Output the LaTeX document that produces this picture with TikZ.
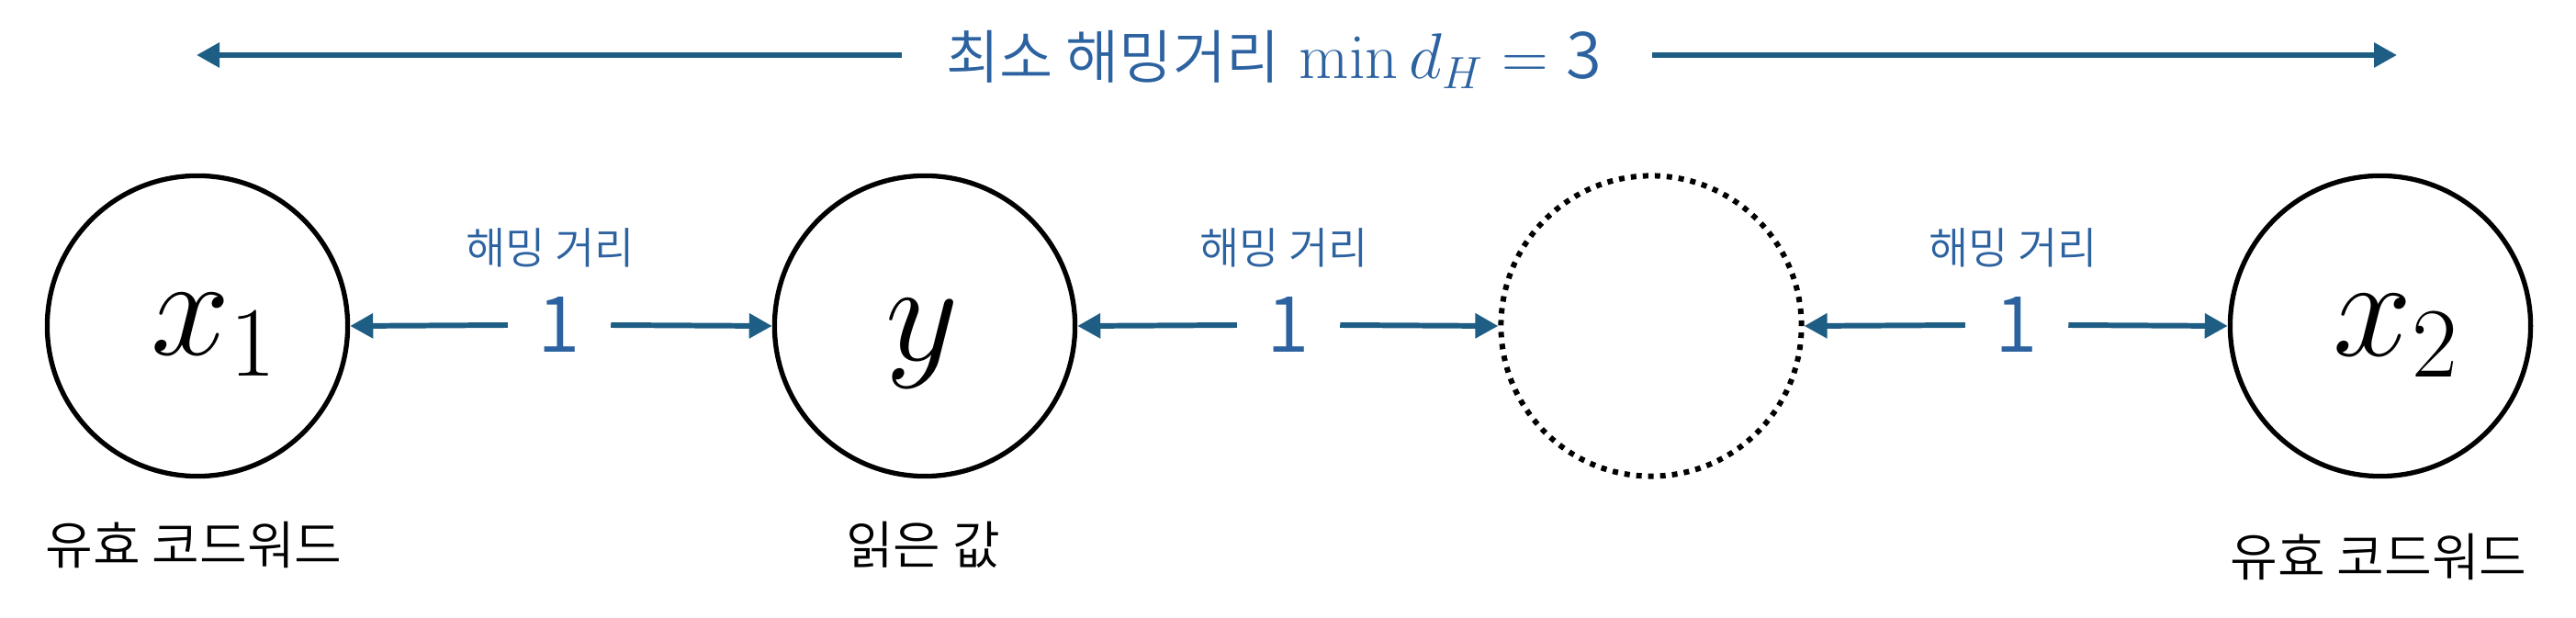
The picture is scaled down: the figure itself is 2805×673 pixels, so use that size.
\RequirePackage{fix-cm}
\documentclass[tikz,border=0pt]{standalone}
\usepackage{fontspec}
\newfontfamily\kr{Noto Sans CJK KR}[UprightFont={* DemiLight}]
\usetikzlibrary{arrows.meta}
\definecolor{arrowblue}{RGB}{30,94,133}
\definecolor{textblue}{RGB}{44,98,160}
\begin{document}
\begin{tikzpicture}[x=0.01cm,y=0.01cm,
  code/.style={circle, draw=black, line width=1.5pt, minimum size=3.27cm, inner sep=0pt},
  emptycode/.style={circle, draw=black, line width=1.7pt, dash pattern=on 1.7pt off 2pt, minimum size=3.27cm, inner sep=0pt},
  dist/.style={text=textblue, font=\kr\fontsize{24}{28}\selectfont, minimum width=1.11cm, inner sep=0pt},
  distname/.style={text=textblue, font=\kr\fontsize{13.4}{16}\selectfont, inner sep=0pt},
  caption/.style={text=black, font=\kr\fontsize{16}{19}\selectfont, inner sep=0pt},
  sym/.style={font=\fontsize{44}{50}\selectfont, inner sep=0pt},
  toplabel/.style={text=textblue, font=\fontsize{20}{24}\selectfont, inner sep=0pt},
  arr/.style={draw=arrowblue, line width=1.7pt, -{Triangle[length=0.25cm,width=0.26cm]}},
]
\useasboundingbox (0,0) rectangle (2805,673);
% circles
\node[code] (x1) at (215,318) {};
\node[code] (y) at (1007,318) {};
\node[emptycode] (e) at (1798,318) {};
\node[code] (x2) at (2592,318) {};
% symbols
\node[sym] (sx1) at (233,308) {$x_1$};
\node[sym] (sy) at (1004,299) {$y$};
\node[sym] (sx2) at (2609,307) {$x_2$};
% distance labels
\node[dist] (d1) at (609,319) {1};
\node[dist] (d2) at (1403,319) {1};
\node[dist] (d3) at (2196,319) {1};
\node[distname] (n1) at (599,403) {해밍 거리};
\node[distname] (n2) at (1398,403) {해밍 거리};
\node[distname] (n3) at (2192,403) {해밍 거리};
% arrows
\draw[arr] (d1.west) -- (x1.east);
\draw[arr] (d1.east) -- (y.west);
\draw[arr] (d2.west) -- (y.east);
\draw[arr] (d2.east) -- (e.west);
\draw[arr] (d3.west) -- (e.east);
\draw[arr] (d3.east) -- (x2.west);
% captions
\node[caption] (c1) at (211,80) {유효 코드워드};
\node[caption] (c2) at (1005,80) {읽은 값};
\node[caption] (c3) at (2590,67) {유효 코드워드};
% top arrow
\node[toplabel, anchor=base] (top) at (1387,587) {{\kr\fontsize{18}{22}\selectfont 최소 해밍거리} $\min d_H = {}${\kr 3}};
\coordinate (tl) at (982,613);
\coordinate (tr) at (1799,613);
\coordinate (L) at (214,613);
\coordinate (R) at (2610,613);
\draw[arr] (tl) -- (L);
\draw[arr] (tr) -- (R);
\end{tikzpicture}
\end{document}
